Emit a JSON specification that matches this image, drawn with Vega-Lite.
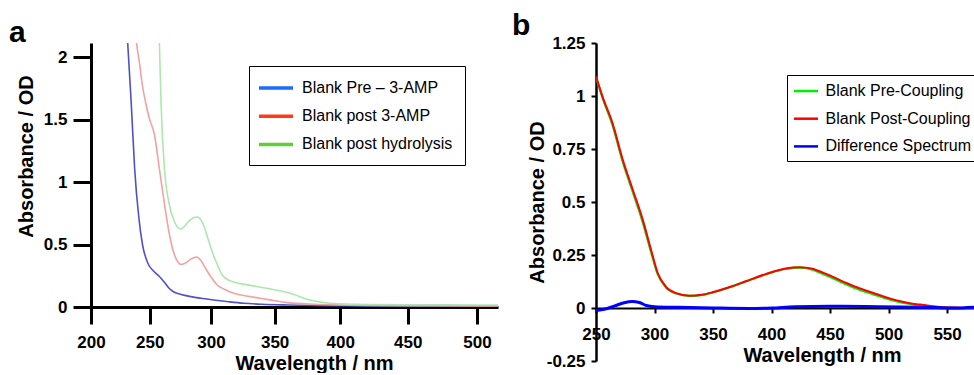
{
  "$schema": "https://vega.github.io/schema/vega-lite/v6.json",
  "background": "white",
  "padding": {"left": 9, "top": 11, "right": 0, "bottom": 0},
  "bounds": "flush",
  "spacing": 98,
  "resolve": {"scale": {"color": "independent", "stroke": "independent"}, "legend": {"color": "independent"}},
  "config": {
    "view": {"stroke": null},
    "font": "Liberation Sans",
    "axis": {
      "grid": false, "domainColor": "black", "tickColor": "black",
      "labelFont": "Liberation Sans", "labelFontSize": 17, "labelFontWeight": "bold", "labelColor": "black",
      "labelFlush": false, "labelOverlap": false,
      "titleFont": "Liberation Sans", "titleFontSize": 20, "titleFontWeight": "bold", "titleColor": "black",
      "titleBaseline": "alphabetic", "titleAlign": "center"
    },
    "legend": {
      "labelFont": "Liberation Sans", "labelFontSize": 16, "labelColor": "black", "labelLimit": 0,
      "strokeColor": "black", "symbolOpacity": 1
    }
  },
  "datasets": {
    "a": [
      {"nm": 228, "od": 2.6, "series": "Blank Pre – 3-AMP"},
      {"nm": 231.5, "od": 2.12, "series": "Blank Pre – 3-AMP"},
      {"nm": 234.5, "od": 1.64, "series": "Blank Pre – 3-AMP"},
      {"nm": 237.4, "od": 1.11, "series": "Blank Pre – 3-AMP"},
      {"nm": 241, "od": 0.71, "series": "Blank Pre – 3-AMP"},
      {"nm": 244, "od": 0.5, "series": "Blank Pre – 3-AMP"},
      {"nm": 249, "od": 0.34, "series": "Blank Pre – 3-AMP"},
      {"nm": 253, "od": 0.29, "series": "Blank Pre – 3-AMP"},
      {"nm": 257.5, "od": 0.25, "series": "Blank Pre – 3-AMP"},
      {"nm": 262, "od": 0.2, "series": "Blank Pre – 3-AMP"},
      {"nm": 266, "od": 0.15, "series": "Blank Pre – 3-AMP"},
      {"nm": 270, "od": 0.12, "series": "Blank Pre – 3-AMP"},
      {"nm": 276, "od": 0.1, "series": "Blank Pre – 3-AMP"},
      {"nm": 284, "od": 0.083, "series": "Blank Pre – 3-AMP"},
      {"nm": 292, "od": 0.07, "series": "Blank Pre – 3-AMP"},
      {"nm": 302, "od": 0.056, "series": "Blank Pre – 3-AMP"},
      {"nm": 314, "od": 0.042, "series": "Blank Pre – 3-AMP"},
      {"nm": 326, "od": 0.03, "series": "Blank Pre – 3-AMP"},
      {"nm": 340, "od": 0.022, "series": "Blank Pre – 3-AMP"},
      {"nm": 360, "od": 0.016, "series": "Blank Pre – 3-AMP"},
      {"nm": 380, "od": 0.012, "series": "Blank Pre – 3-AMP"},
      {"nm": 400, "od": 0.01, "series": "Blank Pre – 3-AMP"},
      {"nm": 450, "od": 0.007, "series": "Blank Pre – 3-AMP"},
      {"nm": 500, "od": 0.005, "series": "Blank Pre – 3-AMP"},
      {"nm": 515, "od": 0.005, "series": "Blank Pre – 3-AMP"},
      {"nm": 234, "od": 2.7, "series": "Blank post 3-AMP"},
      {"nm": 238.9, "od": 2.12, "series": "Blank post 3-AMP"},
      {"nm": 241.5, "od": 1.95, "series": "Blank post 3-AMP"},
      {"nm": 243.9, "od": 1.776, "series": "Blank post 3-AMP"},
      {"nm": 246.5, "od": 1.64, "series": "Blank post 3-AMP"},
      {"nm": 249.7, "od": 1.51, "series": "Blank post 3-AMP"},
      {"nm": 254, "od": 1.376, "series": "Blank post 3-AMP"},
      {"nm": 258, "od": 1.11, "series": "Blank post 3-AMP"},
      {"nm": 262, "od": 0.84, "series": "Blank post 3-AMP"},
      {"nm": 266.4, "od": 0.576, "series": "Blank post 3-AMP"},
      {"nm": 270, "od": 0.43, "series": "Blank post 3-AMP"},
      {"nm": 273.3, "od": 0.36, "series": "Blank post 3-AMP"},
      {"nm": 276, "od": 0.34, "series": "Blank post 3-AMP"},
      {"nm": 280, "od": 0.355, "series": "Blank post 3-AMP"},
      {"nm": 284, "od": 0.385, "series": "Blank post 3-AMP"},
      {"nm": 288.6, "od": 0.4, "series": "Blank post 3-AMP"},
      {"nm": 292, "od": 0.37, "series": "Blank post 3-AMP"},
      {"nm": 295.6, "od": 0.31, "series": "Blank post 3-AMP"},
      {"nm": 300, "od": 0.24, "series": "Blank post 3-AMP"},
      {"nm": 305, "od": 0.176, "series": "Blank post 3-AMP"},
      {"nm": 311, "od": 0.14, "series": "Blank post 3-AMP"},
      {"nm": 318, "od": 0.11, "series": "Blank post 3-AMP"},
      {"nm": 328, "od": 0.088, "series": "Blank post 3-AMP"},
      {"nm": 339, "od": 0.07, "series": "Blank post 3-AMP"},
      {"nm": 350, "od": 0.05, "series": "Blank post 3-AMP"},
      {"nm": 360, "od": 0.035, "series": "Blank post 3-AMP"},
      {"nm": 380, "od": 0.022, "series": "Blank post 3-AMP"},
      {"nm": 400, "od": 0.016, "series": "Blank post 3-AMP"},
      {"nm": 450, "od": 0.01, "series": "Blank post 3-AMP"},
      {"nm": 500, "od": 0.008, "series": "Blank post 3-AMP"},
      {"nm": 515, "od": 0.008, "series": "Blank post 3-AMP"},
      {"nm": 255, "od": 3.3, "series": "Blank post hydrolysis"},
      {"nm": 258, "od": 2.14, "series": "Blank post hydrolysis"},
      {"nm": 259.4, "od": 1.64, "series": "Blank post hydrolysis"},
      {"nm": 262.2, "od": 1.11, "series": "Blank post hydrolysis"},
      {"nm": 265.8, "od": 0.84, "series": "Blank post hydrolysis"},
      {"nm": 270.6, "od": 0.68, "series": "Blank post hydrolysis"},
      {"nm": 275.4, "od": 0.624, "series": "Blank post hydrolysis"},
      {"nm": 281.6, "od": 0.68, "series": "Blank post hydrolysis"},
      {"nm": 285, "od": 0.71, "series": "Blank post hydrolysis"},
      {"nm": 289, "od": 0.72, "series": "Blank post hydrolysis"},
      {"nm": 294, "od": 0.656, "series": "Blank post hydrolysis"},
      {"nm": 297.5, "od": 0.55, "series": "Blank post hydrolysis"},
      {"nm": 301, "od": 0.44, "series": "Blank post hydrolysis"},
      {"nm": 305, "od": 0.34, "series": "Blank post hydrolysis"},
      {"nm": 309, "od": 0.256, "series": "Blank post hydrolysis"},
      {"nm": 313, "od": 0.22, "series": "Blank post hydrolysis"},
      {"nm": 318, "od": 0.2, "series": "Blank post hydrolysis"},
      {"nm": 330, "od": 0.175, "series": "Blank post hydrolysis"},
      {"nm": 344, "od": 0.15, "series": "Blank post hydrolysis"},
      {"nm": 362, "od": 0.11, "series": "Blank post hydrolysis"},
      {"nm": 377, "od": 0.056, "series": "Blank post hydrolysis"},
      {"nm": 392, "od": 0.03, "series": "Blank post hydrolysis"},
      {"nm": 420, "od": 0.02, "series": "Blank post hydrolysis"},
      {"nm": 460, "od": 0.018, "series": "Blank post hydrolysis"},
      {"nm": 500, "od": 0.016, "series": "Blank post hydrolysis"},
      {"nm": 515, "od": 0.016, "series": "Blank post hydrolysis"}
    ],
    "b": [
      {"nm": 250, "od": 1.09, "series": "Blank Pre-Coupling"},
      {"nm": 256, "od": 0.985, "series": "Blank Pre-Coupling"},
      {"nm": 264, "od": 0.865, "series": "Blank Pre-Coupling"},
      {"nm": 272.8, "od": 0.69, "series": "Blank Pre-Coupling"},
      {"nm": 281.4, "od": 0.548, "series": "Blank Pre-Coupling"},
      {"nm": 289.9, "od": 0.405, "series": "Blank Pre-Coupling"},
      {"nm": 297, "od": 0.265, "series": "Blank Pre-Coupling"},
      {"nm": 302.7, "od": 0.16, "series": "Blank Pre-Coupling"},
      {"nm": 309.8, "od": 0.097, "series": "Blank Pre-Coupling"},
      {"nm": 318.4, "od": 0.068, "series": "Blank Pre-Coupling"},
      {"nm": 329.8, "od": 0.057, "series": "Blank Pre-Coupling"},
      {"nm": 340, "od": 0.061, "series": "Blank Pre-Coupling"},
      {"nm": 349.7, "od": 0.073, "series": "Blank Pre-Coupling"},
      {"nm": 365, "od": 0.099, "series": "Blank Pre-Coupling"},
      {"nm": 378, "od": 0.125, "series": "Blank Pre-Coupling"},
      {"nm": 395, "od": 0.158, "series": "Blank Pre-Coupling"},
      {"nm": 412, "od": 0.184, "series": "Blank Pre-Coupling"},
      {"nm": 424, "od": 0.19, "series": "Blank Pre-Coupling"},
      {"nm": 435, "od": 0.181, "series": "Blank Pre-Coupling"},
      {"nm": 441.5, "od": 0.166, "series": "Blank Pre-Coupling"},
      {"nm": 452, "od": 0.141, "series": "Blank Pre-Coupling"},
      {"nm": 464, "od": 0.111, "series": "Blank Pre-Coupling"},
      {"nm": 475, "od": 0.086, "series": "Blank Pre-Coupling"},
      {"nm": 487, "od": 0.064, "series": "Blank Pre-Coupling"},
      {"nm": 497, "od": 0.046, "series": "Blank Pre-Coupling"},
      {"nm": 507, "od": 0.031, "series": "Blank Pre-Coupling"},
      {"nm": 517, "od": 0.02, "series": "Blank Pre-Coupling"},
      {"nm": 527, "od": 0.012, "series": "Blank Pre-Coupling"},
      {"nm": 536, "od": 0.007, "series": "Blank Pre-Coupling"},
      {"nm": 544, "od": 0.003, "series": "Blank Pre-Coupling"},
      {"nm": 555, "od": 0.001, "series": "Blank Pre-Coupling"},
      {"nm": 565, "od": 0, "series": "Blank Pre-Coupling"},
      {"nm": 573, "od": 0, "series": "Blank Pre-Coupling"},
      {"nm": 250, "od": 1.092, "series": "Blank Post-Coupling"},
      {"nm": 256, "od": 0.99, "series": "Blank Post-Coupling"},
      {"nm": 264, "od": 0.873, "series": "Blank Post-Coupling"},
      {"nm": 272.8, "od": 0.7, "series": "Blank Post-Coupling"},
      {"nm": 281.4, "od": 0.558, "series": "Blank Post-Coupling"},
      {"nm": 289.9, "od": 0.417, "series": "Blank Post-Coupling"},
      {"nm": 297, "od": 0.275, "series": "Blank Post-Coupling"},
      {"nm": 302.7, "od": 0.165, "series": "Blank Post-Coupling"},
      {"nm": 309.8, "od": 0.1, "series": "Blank Post-Coupling"},
      {"nm": 318.4, "od": 0.07, "series": "Blank Post-Coupling"},
      {"nm": 329.8, "od": 0.058, "series": "Blank Post-Coupling"},
      {"nm": 340, "od": 0.062, "series": "Blank Post-Coupling"},
      {"nm": 349.7, "od": 0.074, "series": "Blank Post-Coupling"},
      {"nm": 365, "od": 0.1, "series": "Blank Post-Coupling"},
      {"nm": 378, "od": 0.126, "series": "Blank Post-Coupling"},
      {"nm": 395, "od": 0.16, "series": "Blank Post-Coupling"},
      {"nm": 412, "od": 0.186, "series": "Blank Post-Coupling"},
      {"nm": 424, "od": 0.192, "series": "Blank Post-Coupling"},
      {"nm": 435, "od": 0.185, "series": "Blank Post-Coupling"},
      {"nm": 441.5, "od": 0.172, "series": "Blank Post-Coupling"},
      {"nm": 452, "od": 0.148, "series": "Blank Post-Coupling"},
      {"nm": 464, "od": 0.118, "series": "Blank Post-Coupling"},
      {"nm": 475, "od": 0.093, "series": "Blank Post-Coupling"},
      {"nm": 487, "od": 0.071, "series": "Blank Post-Coupling"},
      {"nm": 497, "od": 0.052, "series": "Blank Post-Coupling"},
      {"nm": 507, "od": 0.036, "series": "Blank Post-Coupling"},
      {"nm": 517, "od": 0.024, "series": "Blank Post-Coupling"},
      {"nm": 527, "od": 0.016, "series": "Blank Post-Coupling"},
      {"nm": 536, "od": 0.01, "series": "Blank Post-Coupling"},
      {"nm": 544, "od": 0.005, "series": "Blank Post-Coupling"},
      {"nm": 555, "od": 0.002, "series": "Blank Post-Coupling"},
      {"nm": 565, "od": 0.001, "series": "Blank Post-Coupling"},
      {"nm": 573, "od": 0, "series": "Blank Post-Coupling"},
      {"nm": 250, "od": -0.012, "series": "Difference Spectrum"},
      {"nm": 258, "od": -0.005, "series": "Difference Spectrum"},
      {"nm": 266, "od": 0.01, "series": "Difference Spectrum"},
      {"nm": 274, "od": 0.025, "series": "Difference Spectrum"},
      {"nm": 281, "od": 0.031, "series": "Difference Spectrum"},
      {"nm": 287, "od": 0.026, "series": "Difference Spectrum"},
      {"nm": 293, "od": 0.012, "series": "Difference Spectrum"},
      {"nm": 300, "od": 0.006, "series": "Difference Spectrum"},
      {"nm": 320, "od": 0.003, "series": "Difference Spectrum"},
      {"nm": 350, "od": 0, "series": "Difference Spectrum"},
      {"nm": 380, "od": -0.002, "series": "Difference Spectrum"},
      {"nm": 400, "od": 0, "series": "Difference Spectrum"},
      {"nm": 420, "od": 0.006, "series": "Difference Spectrum"},
      {"nm": 450, "od": 0.008, "series": "Difference Spectrum"},
      {"nm": 480, "od": 0.007, "series": "Difference Spectrum"},
      {"nm": 510, "od": 0.005, "series": "Difference Spectrum"},
      {"nm": 540, "od": 0.002, "series": "Difference Spectrum"},
      {"nm": 555, "od": 0, "series": "Difference Spectrum"},
      {"nm": 573, "od": 0.004, "series": "Difference Spectrum"}
    ]
  },
  "hconcat": [
    {
      "width": 407,
      "height": 264,
      "title": {"text": "a", "anchor": "start", "frame": "group", "dx": -82, "dy": 29, "offset": 0, "baseline": "alphabetic", "fontSize": 30, "fontWeight": "bold", "font": "Liberation Sans", "color": "black"},
      "data": {"name": "a"},
      "encoding": {
        "x": {
          "field": "nm", "type": "quantitative",
          "scale": {"type": "pow", "exponent": 1.22, "domain": [200, 515], "nice": false, "zero": false},
          "axis": {"title": "Wavelength / nm", "values": [200, 250, 300, 350, 400, 450, 500], "domainWidth": 3, "tickWidth": 3, "tickSize": 17, "labelPadding": 10, "titleX": 223, "titleY": 62}
        },
        "y": {
          "field": "od", "type": "quantitative",
          "scale": {"domain": [0, 2.112], "nice": false},
          "axis": {"title": "Absorbance / OD", "values": [0, 0.5, 1, 1.5, 2], "labelExpr": "'' + datum.value", "domainWidth": 3, "tickWidth": 3, "tickSize": 18, "labelPadding": 6, "titleX": -59, "titleY": 113, "titleAngle": 270}
        }
      },
      "layer": [
        {
          "mark": {"type": "line", "clip": true, "strokeWidth": 1.5, "opacity": 0},
          "encoding": {
            "color": {
              "field": "series", "type": "nominal",
              "scale": {"domain": ["Blank Pre – 3-AMP", "Blank post 3-AMP", "Blank post hydrolysis"], "range": ["#1a6cff", "#ff3a1a", "#5ccf3a"]},
              "legend": {
                "title": null, "orient": "none", "legendX": 158, "legendY": 23,
                "padding": 12, "rowPadding": 10.2, "symbolType": "M-2.125,0H2.125", "symbolSize": 256, "symbolStrokeWidth": 3.5, "symbolOffset": 5, "labelOffset": 16
              }
            }
          }
        },
        {
          "mark": {"type": "line", "clip": true, "strokeWidth": 1.6, "interpolate": "monotone"},
          "encoding": {
            "stroke": {
              "field": "series", "type": "nominal",
              "scale": {"domain": ["Blank Pre – 3-AMP", "Blank post 3-AMP", "Blank post hydrolysis"], "range": ["#5050c8", "#f2a2a2", "#ace8ac"]},
              "legend": null
            }
          }
        }
      ]
    },
    {
      "width": 378,
      "height": 318,
      "title": {"text": "b", "anchor": "start", "frame": "group", "dx": -84, "dy": 31, "offset": 0, "baseline": "alphabetic", "fontSize": 30, "fontWeight": "bold", "font": "Liberation Sans", "color": "black"},
      "data": {"name": "b"},
      "encoding": {
        "x": {
          "field": "nm", "type": "quantitative",
          "scale": {"domain": [250, 573], "nice": false, "zero": false},
          "axis": {"title": "Wavelength / nm", "values": [250, 300, 350, 400, 450, 500, 550], "offset": -53, "domainWidth": 2, "tickWidth": 2, "tickSize": 5, "labelPadding": 13, "titleX": 226, "titleY": 53}
        },
        "y": {
          "field": "od", "type": "quantitative",
          "scale": {"domain": [-0.25, 1.25], "nice": false},
          "axis": {"title": "Absorbance / OD", "values": [-0.25, 0, 0.25, 0.5, 0.75, 1, 1.25], "labelExpr": "'' + datum.value", "domainWidth": 2.5, "tickWidth": 2, "tickSize": 5, "labelPadding": 6, "titleX": -53, "titleY": 159, "titleAngle": 270}
        },
        "color": {
          "field": "series", "type": "nominal",
          "scale": {"domain": ["Blank Pre-Coupling", "Blank Post-Coupling", "Difference Spectrum"], "range": ["#00ee00", "#ff0000", "#0000ff"]},
          "legend": {
            "title": null, "orient": "none", "legendX": 191, "legendY": 32,
            "padding": 6.5, "rowPadding": 9.7, "symbolType": "M-1.5,0H1.5", "symbolSize": 256, "symbolStrokeWidth": 2.5, "symbolOffset": 3, "labelOffset": 10
          }
        }
      },
      "layer": [
        {"transform": [{"filter": "datum.series === 'Blank Pre-Coupling'"}], "mark": {"type": "line", "clip": true, "strokeWidth": 2.2, "interpolate": "monotone"}},
        {"transform": [{"filter": "datum.series === 'Blank Post-Coupling'"}], "mark": {"type": "line", "clip": true, "strokeWidth": 2, "interpolate": "monotone"}},
        {"transform": [{"filter": "datum.series === 'Difference Spectrum'"}], "mark": {"type": "line", "clip": true, "strokeWidth": 3, "interpolate": "monotone"}}
      ]
    }
  ]
}
